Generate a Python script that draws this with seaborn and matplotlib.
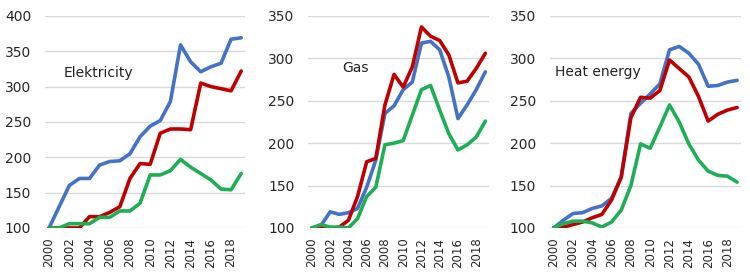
import pandas as pd
import numpy as np
import matplotlib.pyplot as plt
import seaborn as sns

years = list(range(2000, 2020))

# Elektricity
el_blue = [100, 130, 160, 170, 170, 189, 194, 195, 205, 229, 244, 252, 279, 359, 335, 321, 328, 333, 367, 369]
el_red = [100, 100, 100, 100, 116, 116, 122, 130, 170, 191, 190, 234, 240, 240, 239, 305, 300, 297, 294, 322]
el_green = [100, 100, 106, 106, 106, 115, 115, 124, 124, 135, 175, 175, 181, 197, 186, 177, 168, 155, 154, 177]

# Gas
gas_blue = [100, 103, 119, 116, 118, 123, 148, 180, 235, 244, 263, 272, 318, 320, 310, 278, 229, 245, 263, 284]
gas_red = [100, 101, 99, 101, 109, 137, 178, 182, 245, 281, 266, 290, 337, 326, 321, 304, 271, 273, 288, 306]
gas_green = [100, 104, 101, 101, 100, 111, 137, 148, 198, 200, 203, 233, 263, 268, 239, 211, 192, 198, 207, 226]

# Heat energy
heat_blue = [100, 109, 117, 118, 123, 126, 135, 160, 235, 247, 258, 270, 310, 314, 306, 293, 267, 268, 272, 274]
heat_red = [100, 101, 104, 107, 112, 116, 133, 160, 230, 254, 253, 262, 298, 288, 278, 255, 226, 234, 239, 242]
heat_green = [100, 105, 108, 108, 106, 101, 107, 121, 150, 199, 194, 219, 245, 225, 199, 180, 167, 162, 161, 154]

titles = ["Elektricity", "Gas", "Heat energy"]
series_names = ["blue", "red", "green"]
colors = {"blue": "#4472C4", "red": "#C00000", "green": "#1DAF54"}

panels = [
    (el_blue, el_red, el_green),
    (gas_blue, gas_red, gas_green),
    (heat_blue, heat_red, heat_green),
]

sns.set_style("white")
plt.rcParams["font.family"] = ["DejaVu Sans"]

fig = plt.figure(figsize=(7.5, 2.79), dpi=100)
boxes = [
    [0.060, 0.183, 0.267, 0.760],
    [0.411, 0.183, 0.241, 0.760],
    [0.733, 0.183, 0.255, 0.760],
]
ylims = [(100, 400), (100, 350), (100, 350)]
label_pos = [(2001.4, 319), (2003.3, 289), (2000.1, 284)]

for i, vals in enumerate(panels):
    ax = fig.add_axes(boxes[i])
    df = pd.DataFrame({
        "year": years * 3,
        "value": vals[0] + vals[1] + vals[2],
        "series": [s for s in series_names for _ in years],
    })
    sns.lineplot(data=df, x="year", y="value", hue="series", palette=colors,
                 linewidth=2.6, legend=False, ax=ax)
    ax.set_xlim(1999.6, 2019.4)
    ax.set_ylim(*ylims[i])
    ax.set_yticks(np.arange(ylims[i][0], ylims[i][1] + 1, 50))
    ax.set_xticks(range(2000, 2020, 2))
    ax.set_xticklabels([str(y) for y in range(2000, 2020, 2)], rotation=90,
                       family=["Liberation Sans Narrow", "DejaVu Sans"], fontsize=8.5)
    ax.tick_params(axis="y", length=0, labelsize=10, colors="#262626", pad=10)
    ax.tick_params(axis="x", length=0, colors="#262626", pad=7)
    ax.yaxis.grid(True, color="#D9D9D9", linewidth=1)
    ax.set_axisbelow(True)
    for sp in ax.spines.values():
        sp.set_visible(False)
    ax.set_xlabel("")
    ax.set_ylabel("")
    ax.text(label_pos[i][0], label_pos[i][1], titles[i], fontsize=10,
            color="#222222", va="center", ha="left")

plt.savefig("out.png", dpi=100)
